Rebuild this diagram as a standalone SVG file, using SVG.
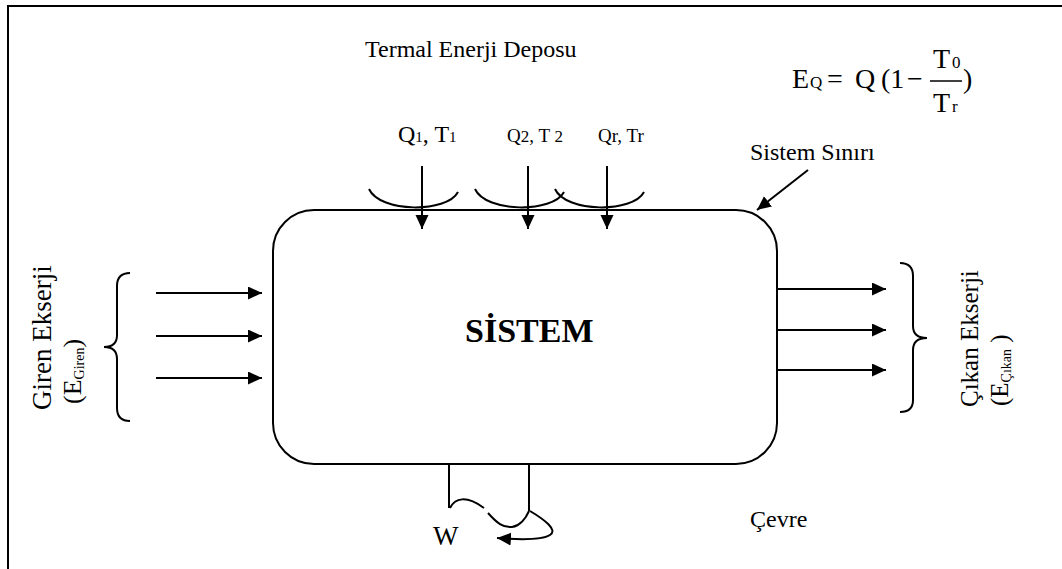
<svg xmlns="http://www.w3.org/2000/svg" width="1062" height="569" viewBox="0 0 1062 569">
<defs>
<marker id="ah" markerUnits="userSpaceOnUse" markerWidth="14" markerHeight="14" refX="14" refY="6.5" orient="auto">
<path d="M0,0 L14,6.5 L0,13 z" fill="#000"/>
</marker>
<style>
text{font-family:"Liberation Serif","Times New Roman",serif;fill:#000}
.ln{fill:none;stroke:#000;stroke-width:2}
.ar{fill:none;stroke:#000;stroke-width:2;marker-end:url(#ah)}
</style>
</defs>
<rect x="0" y="0" width="1062" height="569" fill="#fff"/>
<rect id="frame" x="8" y="6" width="1100" height="700" class="ln"/>
<g id="title"><text x="365" y="57" font-size="24">Termal Enerji Deposu</text></g>
<g id="formula">
<text x="792" y="88" font-size="28">E</text>
<text x="810" y="88" font-size="17">Q</text>
<text x="827" y="88" font-size="28">=</text>
<text x="855" y="88" font-size="28">Q</text>
<text x="881" y="88" font-size="28">(1</text>
<text x="907" y="88" font-size="28">−</text>
<text x="933" y="68" font-size="28">T</text>
<text x="952" y="68" font-size="17">0</text>
<line x1="930" y1="81" x2="962" y2="81" stroke="#000" stroke-width="1.5"/>
<text x="933" y="112" font-size="28">T</text>
<text x="952" y="112" font-size="17">r</text>
<text x="963" y="88" font-size="28">)</text>
</g>
<g id="system">
<rect x="273" y="210" width="504" height="254" rx="41" ry="41" class="ln"/>
<text x="465" y="342" font-size="34" font-weight="bold">SİSTEM</text>
</g>
<g id="boundary-label"><text x="750" y="160" font-size="24">Sistem Sınırı</text></g>
<g id="heat-labels">
<text x="398" y="142" font-size="24">Q<tspan font-size="15">1</tspan>, T<tspan font-size="15">1</tspan></text>
<text x="507" y="142" font-size="19">Q<tspan font-size="17">2</tspan>, T <tspan font-size="17">2</tspan></text>
<text x="598" y="142" font-size="19">Qr, Tr</text>
</g>
<g id="inlet-label">
<text transform="translate(51,410) rotate(-90)" font-size="27">Giren Ekserji</text>
<text transform="translate(81,404) rotate(-90)" font-size="26">(E<tspan font-size="14" dy="3">Giren</tspan><tspan dy="-3">)</tspan></text>
</g>
<g id="outlet-label">
<text transform="translate(978,407) rotate(-90)" font-size="25">Çıkan Ekserji</text>
<text transform="translate(1008,406) rotate(-90)" font-size="25">(E<tspan font-size="14" dy="3">Çıkan</tspan><tspan dy="-3"> )</tspan></text>
</g>
<g id="env-label"><text x="750" y="527" font-size="24">Çevre</text></g>
<g id="work-label"><text x="433" y="545" font-size="27">W</text></g>
<g id="connectors">
<path class="ln" d="M369,189 C380,213 447,213 458,192"/>
<path class="ln" d="M475,189 C486,213 553,213 564,192"/>
<path class="ln" d="M555,189 C566,213 633,213 644,192"/>
<line class="ar" x1="422" y1="166" x2="422" y2="229"/>
<line class="ar" x1="528" y1="166" x2="528" y2="229"/>
<line class="ar" x1="607" y1="166" x2="607" y2="229"/>
<line class="ar" x1="808" y1="170" x2="757" y2="210"/>
<line class="ar" x1="156" y1="293" x2="262" y2="293"/>
<line class="ar" x1="156" y1="336" x2="262" y2="336"/>
<line class="ar" x1="156" y1="378" x2="262" y2="378"/>
<line class="ar" x1="778" y1="289" x2="886" y2="289"/>
<line class="ar" x1="778" y1="330" x2="886" y2="330"/>
<line class="ar" x1="778" y1="370" x2="886" y2="370"/>
<path class="ln" d="M130,273 Q117,273 117,286 L117,335 Q117,347 104,347 Q117,347 117,359 L117,408 Q117,421 130,421"/>
<path class="ln" d="M900,263 Q913,263 913,276 L913,326 Q913,338 927,338 Q913,338 913,350 L913,400 Q913,412 900,412"/>
<line class="ln" x1="449" y1="464" x2="449" y2="508"/>
<line class="ln" x1="529" y1="464" x2="529" y2="511"/>
<path class="ln" d="M450,508 C455,498 466,495 484,508"/>
<path class="ln" d="M488,513 C497,523 503,528 512,527 C520,526 526,518 529,511"/>
<path class="ar" d="M530,511 C545,520 558,530 550,535 C542,540 522,540 497,538"/>
</g>
</svg>
